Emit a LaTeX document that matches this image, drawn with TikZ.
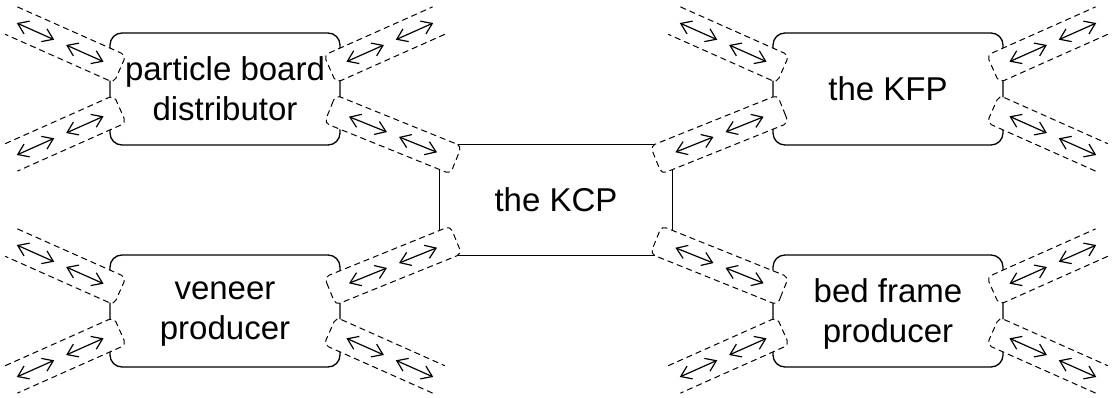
\documentclass[tikz,border=0pt]{standalone}
\usepackage{fontspec}
\setmainfont{Liberation Sans}
\usetikzlibrary{calc,arrows.meta}
\tikzset{
  entity/.style={draw, line width=1.3pt, rounded corners=12pt, fill=white,
    minimum width=230pt, minimum height=112pt, align=center, inner sep=0pt,
    font=\fontsize{33}{40}\selectfont},
  twoline/.style={text depth=-8pt},
  chan/.style={draw, fill=white, line width=1pt, dash pattern=on 6pt off 4pt,
    rounded corners=5pt},
  dbl/.style={line width=1.2pt,
    {Straight Barb[length=10pt,width=14pt]}-{Straight Barb[length=10pt,width=14pt]}},
}
\newcommand\outerchan[2]{%
  \draw[chan] ($(#2)!15pt!90:(#1)$) -- ($(#1)!15pt!-90:(#2)$)
    -- ($(#1)!15pt!90:(#2)$) -- ($(#2)!15pt!-90:(#1)$);
  \draw[dbl] ($(#1)!18pt!(#2)$) -- ($(#1)!59pt!(#2)$);
  \draw[dbl] ($(#1)!72pt!(#2)$) -- ($(#1)!113pt!(#2)$);
}
\newcommand\sharedchan[2]{%
  \draw[chan] (#1) -- ($(#1)!15pt!90:(#2)$) -- ($(#2)!15pt!-90:(#1)$)
    -- ($(#2)!15pt!90:(#1)$) -- ($(#1)!15pt!-90:(#2)$) -- cycle;
  \coordinate (chmid) at ($(#1)!0.5!(#2)$);
  \draw[dbl] ($(chmid)!47.5pt!(#1)$) -- ($(chmid)!6.5pt!(#1)$);
  \draw[dbl] ($(chmid)!6.5pt!(#2)$) -- ($(chmid)!47.5pt!(#2)$);
}
\begin{document}
\begin{tikzpicture}[x=1pt,y=-1pt]
\useasboundingbox (0,0) rectangle (1113,398);
% boxes
\node[entity, twoline] (pb) at (225,89) {particle board\\distributor};
\node[entity, twoline] (vp) at (225,311) {veneer\\producer};
\node[entity] (kfp) at (888,89) {the KFP};
\node[entity, twoline] (bf) at (888,311) {bed frame\\producer};
\node[entity, minimum width=233pt, minimum height=111pt, rounded corners=0pt] (kcp) at (556,200) {the KCP};
% cap points
\coordinate (pbTL) at ($(pb.center)+(-105,-20)$);
\coordinate (pbBL) at ($(pb.center)+(-105,20)$);
\coordinate (pbTR) at ($(pb.center)+(105,-20)$);
\coordinate (pbBR) at ($(pb.center)+(105,20)$);
\coordinate (vpTL) at ($(vp.center)+(-105,-20)$);
\coordinate (vpBL) at ($(vp.center)+(-105,20)$);
\coordinate (vpTR) at ($(vp.center)+(105,-20)$);
\coordinate (vpBR) at ($(vp.center)+(105,20)$);
\coordinate (kfpTL) at ($(kfp.center)+(-105,-20)$);
\coordinate (kfpBL) at ($(kfp.center)+(-105,20)$);
\coordinate (kfpTR) at ($(kfp.center)+(105,-20)$);
\coordinate (kfpBR) at ($(kfp.center)+(105,20)$);
\coordinate (bfTL) at ($(bf.center)+(-105,-20)$);
\coordinate (bfBL) at ($(bf.center)+(-105,20)$);
\coordinate (bfTR) at ($(bf.center)+(105,-20)$);
\coordinate (bfBR) at ($(bf.center)+(105,20)$);
\coordinate (kcpTL) at ($(kcp.center)+(-100,-40)$);
\coordinate (kcpTR) at ($(kcp.center)+(100,-40)$);
\coordinate (kcpBL) at ($(kcp.center)+(-100,40)$);
\coordinate (kcpBR) at ($(kcp.center)+(100,40)$);
% open ends
\coordinate (pbTLo) at ($(pbTL)+(-108.7,-48.4)$);
\coordinate (pbBLo) at ($(pbBL)+(-108.7,48.4)$);
\coordinate (pbTRo) at ($(pbTR)+(108.7,-48.4)$);
\coordinate (vpTLo) at ($(vpTL)+(-108.7,-48.4)$);
\coordinate (vpBLo) at ($(vpBL)+(-108.7,48.4)$);
\coordinate (vpBRo) at ($(vpBR)+(108.7,48.4)$);
\coordinate (kfpTLo) at ($(kfpTL)+(-108.7,-48.4)$);
\coordinate (kfpTRo) at ($(kfpTR)+(108.7,-48.4)$);
\coordinate (kfpBRo) at ($(kfpBR)+(108.7,48.4)$);
\coordinate (bfBLo) at ($(bfBL)+(-108.7,48.4)$);
\coordinate (bfTRo) at ($(bfTR)+(108.7,-48.4)$);
\coordinate (bfBRo) at ($(bfBR)+(108.7,48.4)$);
% outer channels
\outerchan{pbTL}{pbTLo}
\outerchan{pbBL}{pbBLo}
\outerchan{pbTR}{pbTRo}
\outerchan{vpTL}{vpTLo}
\outerchan{vpBL}{vpBLo}
\outerchan{vpBR}{vpBRo}
\outerchan{kfpTL}{kfpTLo}
\outerchan{kfpTR}{kfpTRo}
\outerchan{kfpBR}{kfpBRo}
\outerchan{bfBL}{bfBLo}
\outerchan{bfTR}{bfTRo}
\outerchan{bfBR}{bfBRo}
% shared channels
\sharedchan{pbBR}{kcpTL}
\sharedchan{vpTR}{kcpBL}
\sharedchan{kfpBL}{kcpTR}
\sharedchan{bfTL}{kcpBR}
\end{tikzpicture}
\end{document}
